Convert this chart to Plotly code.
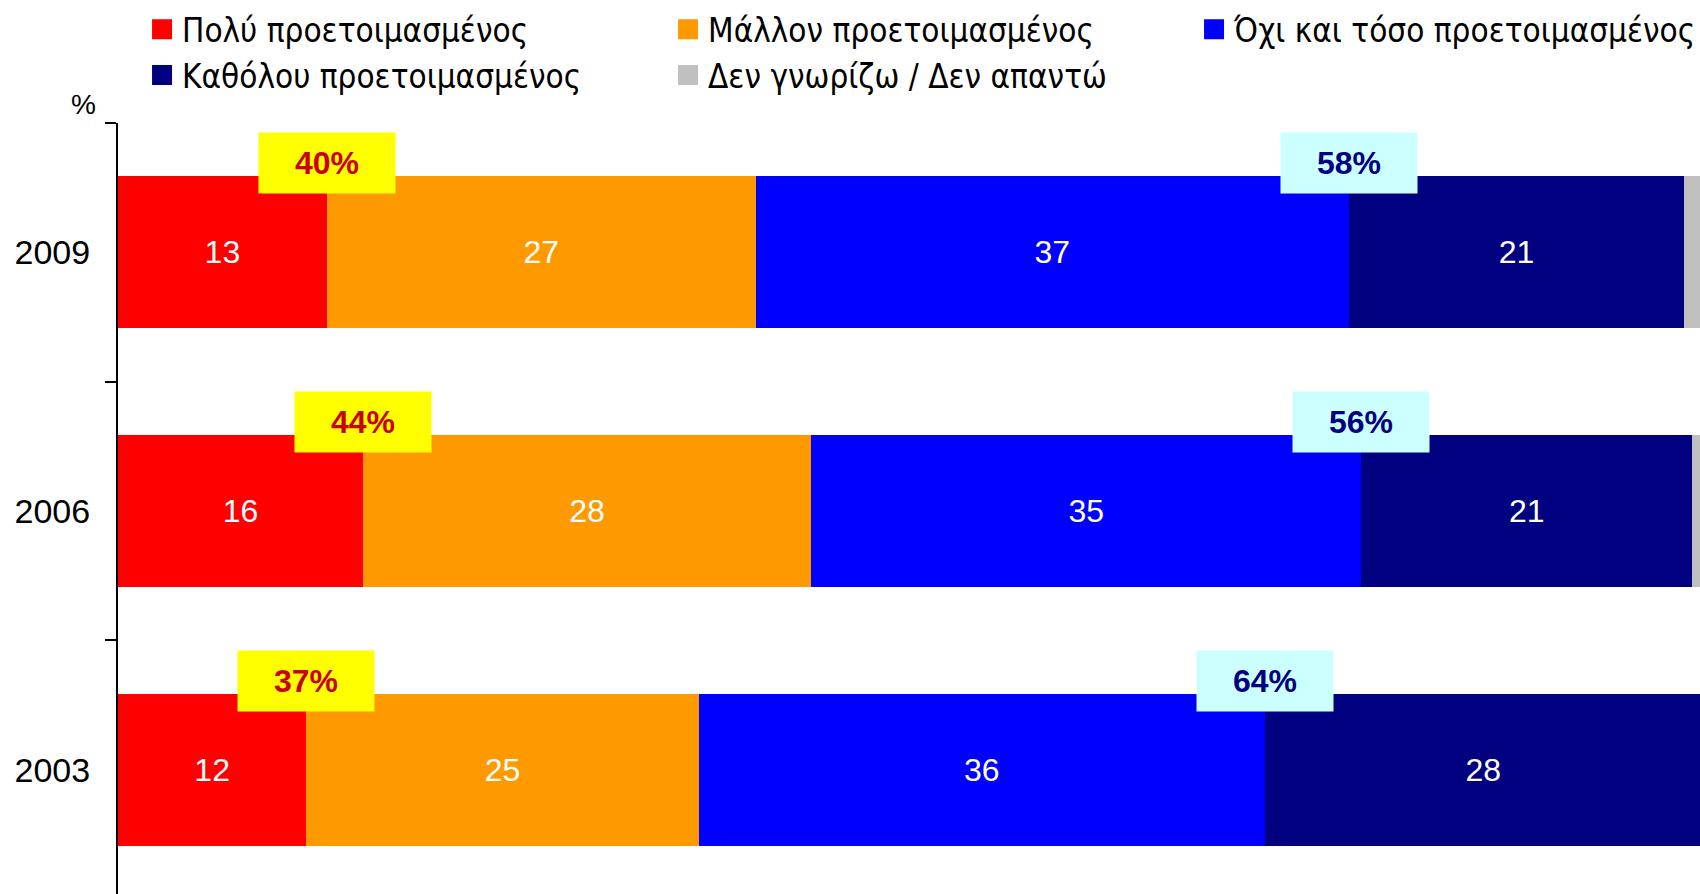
import plotly.graph_objects as go

# ---- data ----
years = ["2009", "2006", "2003"]
category_order = ["2003", "2006", "2009"]
series_names = [
    "Πολύ προετοιμασμένος",
    "Μάλλον προετοιμασμένος",
    "Όχι και τόσο προετοιμασμένος",
    "Καθόλου προετοιμασμένος",
    "Δεν γνωρίζω / Δεν απαντώ",
]
very = [13.2, 15.5, 11.9]
rather = [27.1, 28.3, 24.8]
not_so = [37.5, 34.8, 35.8]
not_at_all = [21.2, 20.9, 27.6]
dont_know = [1.0, 0.5, 0.0]

very_lbl = [13, 16, 12]
rather_lbl = [27, 28, 25]
not_so_lbl = [37, 35, 36]
not_at_all_lbl = [21, 21, 28]

prepared_total = [40, 44, 37]
unprepared_total = [58, 56, 64]

colors = ["#FF0000", "#FF9900", "#0000FF", "#000080", "#C0C0C0"]

FONT = "Liberation Sans, Arial, sans-serif"
NARROW = "Liberation Sans Narrow, Arial Narrow, DejaVu Sans Condensed, Liberation Sans, sans-serif"

fig = go.Figure()
values = [very, rather, not_so, not_at_all, dont_know]
labels = [very_lbl, rather_lbl, not_so_lbl, not_at_all_lbl, None]
for name, vals, lbl, col in zip(series_names, values, labels, colors):
    fig.add_trace(go.Bar(
        y=years, x=vals, name=name, orientation="h",
        marker=dict(color=col, line=dict(width=0)),
        text=[str(v) for v in lbl] if lbl else None,
        textposition="inside" if lbl else "none",
        insidetextanchor="middle",
        textfont=dict(family=FONT, size=32, color="white"),
        legendgroup=name, showlegend=False,
        hoverinfo="skip",
    ))
# legend entries (larger square swatches)
for name, col in zip(series_names, colors):
    fig.add_trace(go.Scatter(
        x=[None], y=[None], mode="markers", name=name, legendgroup=name,
        marker=dict(symbol="square", size=16, color=col, line=dict(color=col, width=4)),
        showlegend=True, hoverinfo="skip",
    ))

# net labels (category axis -> use category index)
for i, y in enumerate(years):
    yi = category_order.index(y)
    fig.add_annotation(
        x=very[i], y=yi, xref="x", yref="y", yshift=89,
        text=f"<b>{prepared_total[i]}%</b>", showarrow=False,
        font=dict(family=FONT, size=32, color="#CC0000"),
        bgcolor="#FFFF00", width=136, height=60, borderpad=0,
        xanchor="center", yanchor="middle",
    )
    fig.add_annotation(
        x=very[i] + rather[i] + not_so[i], y=yi, xref="x", yref="y", yshift=89,
        text=f"<b>{unprepared_total[i]}%</b>", showarrow=False,
        font=dict(family=FONT, size=32, color="#000080"),
        bgcolor="#CCFFFF", width=136, height=60, borderpad=0,
        xanchor="center", yanchor="middle",
    )

fig.add_annotation(
    x=-0.022, y=1.024, xref="paper", yref="paper", text="%", showarrow=False,
    font=dict(family=FONT, size=28, color="black"), xanchor="center", yanchor="middle",
)

fig.update_layout(
    width=1700, height=894,
    margin=dict(l=118, r=0, t=123, b=0, autoexpand=False),
    paper_bgcolor="white", plot_bgcolor="white",
    barmode="stack", bargap=0.413,
    font=dict(family=FONT, color="black"),
    showlegend=True,
    legend=dict(
        orientation="h", x=0.0152, y=1.158, xanchor="left", yanchor="top",
        traceorder="normal", entrywidth=481, entrywidthmode="pixels",
        itemsizing="trace",
        font=dict(family=NARROW, size=33, color="black"),
        bgcolor="rgba(0,0,0,0)",
    ),
    xaxis=dict(range=[0, 100], visible=False, showgrid=False, zeroline=False),
    yaxis=dict(
        type="category", categoryorder="array", categoryarray=category_order,
        range=[-0.481, 2.5], showline=True, linecolor="black", linewidth=2,
        ticks="outside", ticklen=11, tickwidth=2, tickcolor="black",
        tickson="boundaries", tickfont=dict(family=FONT, size=34, color="black"),
        ticklabelstandoff=19, showgrid=False, zeroline=False, automargin=False,
    ),
)

fig.write_html(
    "out.html",
    config={"displayModeBar": False},
    post_script="document.body.style.margin='0';document.body.style.overflow='hidden';",
)
